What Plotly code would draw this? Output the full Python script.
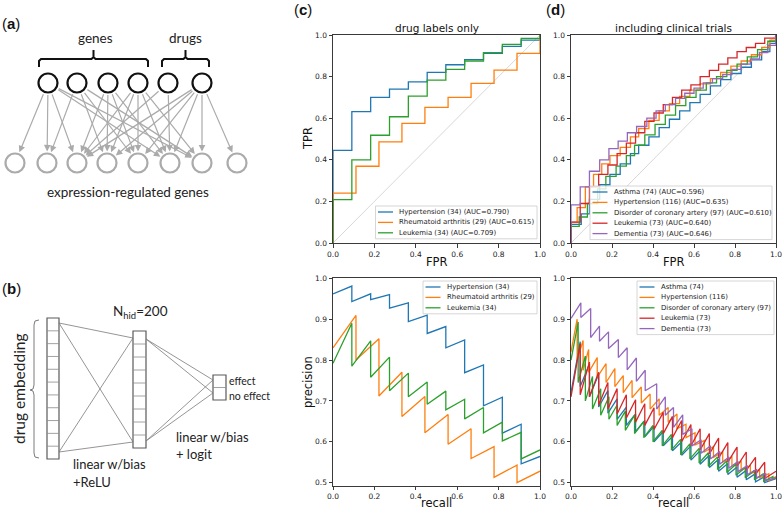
import plotly.graph_objects as go

W, H = 784, 509
TAB = ["#1f77b4", "#ff7f0e", "#2ca02c", "#d62728", "#9467bd"]

# ---- (c) drug labels only
c_labels = ["Hypertension (34)", "Rheumatoid arthritis (29)", "Leukemia (34)"]
c_auc = ["0.790", "0.615", "0.709"]
c_fpr = [
    [0, 0, 0.091, 0.182, 0.273, 0.364, 0.455, 0.545, 0.636, 0.727, 0.818, 0.909, 1.0],
    [0, 0, 0.111, 0.222, 0.333, 0.444, 0.556, 0.667, 0.778, 0.889, 1.0],
    [0, 0, 0.091, 0.182, 0.273, 0.364, 0.455, 0.545, 0.636, 0.727, 0.818, 0.909, 1.0],
]
c_tpr = [
    [0, 0.445, 0.632, 0.70, 0.74, 0.775, 0.82, 0.857, 0.882, 0.912, 0.945, 0.975, 1.0],
    [0, 0.24, 0.369, 0.486, 0.575, 0.652, 0.70, 0.767, 0.831, 0.912, 1.0],
    [0, 0.209, 0.40, 0.518, 0.607, 0.706, 0.783, 0.835, 0.875, 0.915, 0.955, 0.984, 1.0],
]
# precision-recall: recall of each tooth, precision before and after the drop
c_rec = [
    [0, 0.091, 0.182, 0.273, 0.364, 0.455, 0.545, 0.636, 0.727, 0.818, 0.909, 1.0],
    [0, 0.111, 0.222, 0.333, 0.444, 0.556, 0.667, 0.778, 0.889, 1.0],
    [0, 0.091, 0.182, 0.273, 0.364, 0.455, 0.545, 0.636, 0.727, 0.818, 0.909, 1.0],
]
c_prec_hi = [
    [0.962, 0.981, 0.962, 0.96, 0.94, 0.91, 0.882, 0.849, 0.788, 0.709, 0.643, 0.564],
    [0.83, 0.909, 0.852, 0.77, 0.711, 0.667, 0.632, 0.588, 0.543, 0.528],
    [0.792, 0.89, 0.847, 0.807, 0.768, 0.746, 0.724, 0.704, 0.684, 0.648, 0.623, 0.58],
]
c_prec_lo = [
    [0.962, 0.943, 0.948, 0.927, 0.894, 0.865, 0.83, 0.769, 0.688, 0.621, 0.546, 0.564],
    [0.83, 0.80, 0.712, 0.662, 0.622, 0.594, 0.559, 0.513, 0.50, 0.528],
    [0.792, 0.785, 0.758, 0.725, 0.71, 0.692, 0.678, 0.656, 0.622, 0.602, 0.558, 0.58],
]

# ---- (d) including clinical trials
d_labels = ["Asthma (74)", "Hypertension (116)", "Disorder of coronary artery (97)",
            "Leukemia (73)", "Dementia (73)"]
d_auc = ["0.596", "0.635", "0.610", "0.640", "0.646"]
d_fpr = [
    [0, 0, 0.05, 0.09, 0.14, 0.19, 0.24, 0.29, 0.33, 0.38, 0.43, 0.48, 0.53, 0.58, 0.63, 0.68, 0.73, 0.78, 0.83, 0.88, 0.93, 0.97, 1.0],
    [0, 0, 0.03, 0.07, 0.11, 0.15, 0.19, 0.24, 0.29, 0.33, 0.38, 0.43, 0.48, 0.53, 0.58, 0.63, 0.68, 0.73, 0.78, 0.83, 0.88, 0.93, 0.97, 1.0],
    [0, 0, 0.04, 0.08, 0.13, 0.17, 0.22, 0.27, 0.31, 0.36, 0.41, 0.46, 0.51, 0.56, 0.61, 0.66, 0.71, 0.76, 0.81, 0.86, 0.91, 0.96, 1.0],
    [0, 0, 0.045, 0.09, 0.135, 0.18, 0.225, 0.27, 0.315, 0.36, 0.405, 0.45, 0.495, 0.54, 0.585, 0.63, 0.675, 0.72, 0.765, 0.81, 0.855, 0.9, 0.945, 1.0],
    [0, 0, 0.045, 0.09, 0.14, 0.185, 0.23, 0.275, 0.32, 0.37, 0.415, 0.46, 0.51, 0.555, 0.60, 0.645, 0.69, 0.74, 0.785, 0.83, 0.875, 0.92, 0.96, 1.0],
]
d_tpr = [
    [0, 0.09, 0.14, 0.21, 0.28, 0.33, 0.38, 0.43, 0.47, 0.51, 0.555, 0.595, 0.635, 0.675, 0.715, 0.755, 0.785, 0.815, 0.845, 0.88, 0.92, 0.96, 1.0],
    [0, 0.10, 0.17, 0.27, 0.33, 0.38, 0.42, 0.46, 0.51, 0.55, 0.59, 0.635, 0.67, 0.705, 0.735, 0.765, 0.79, 0.82, 0.85, 0.875, 0.905, 0.94, 0.975, 1.0],
    [0, 0.08, 0.125, 0.19, 0.26, 0.32, 0.37, 0.42, 0.47, 0.52, 0.57, 0.615, 0.66, 0.70, 0.735, 0.77, 0.80, 0.83, 0.86, 0.895, 0.93, 0.97, 1.0],
    [0, 0.10, 0.19, 0.27, 0.33, 0.375, 0.43, 0.48, 0.53, 0.585, 0.625, 0.665, 0.70, 0.735, 0.76, 0.80, 0.83, 0.86, 0.89, 0.92, 0.94, 0.96, 0.985, 1.0],
    [0, 0.183, 0.27, 0.345, 0.40, 0.454, 0.49, 0.53, 0.56, 0.60, 0.635, 0.665, 0.695, 0.72, 0.745, 0.77, 0.79, 0.81, 0.835, 0.86, 0.885, 0.915, 0.95, 1.0],
]
d_rec = [
    [0, 0.045, 0.09, 0.135, 0.18, 0.225, 0.27, 0.315, 0.36, 0.405, 0.45, 0.495, 0.54, 0.585, 0.63, 0.675, 0.72, 0.765, 0.81, 0.855, 0.9, 0.945, 1.0],
    [0, 0.03, 0.059, 0.086, 0.128, 0.171, 0.214, 0.255, 0.298, 0.343, 0.386, 0.43, 0.474, 0.517, 0.561, 0.605, 0.65, 0.695, 0.74, 0.785, 0.83, 0.875, 0.92, 0.965, 1.0],
    [0, 0.035, 0.07, 0.105, 0.145, 0.185, 0.225, 0.265, 0.31, 0.355, 0.4, 0.445, 0.49, 0.535, 0.58, 0.625, 0.67, 0.715, 0.76, 0.805, 0.85, 0.895, 0.94, 0.985, 1.0],
    [0, 0.045, 0.09, 0.135, 0.18, 0.225, 0.27, 0.315, 0.36, 0.405, 0.45, 0.495, 0.54, 0.585, 0.63, 0.675, 0.72, 0.765, 0.81, 0.855, 0.9, 0.945, 1.0],
    [0, 0.048, 0.096, 0.139, 0.183, 0.231, 0.274, 0.319, 0.362, 0.418, 0.46, 0.50, 0.545, 0.59, 0.635, 0.68, 0.725, 0.77, 0.815, 0.86, 0.905, 0.95, 1.0],
]
d_prec_hi = [
    [0.72, 0.845, 0.79, 0.765, 0.725, 0.705, 0.685, 0.668, 0.652, 0.638, 0.625, 0.613, 0.6, 0.59, 0.578, 0.567, 0.557, 0.547, 0.538, 0.53, 0.522, 0.515, 0.51],
    [0.82, 0.90, 0.848, 0.826, 0.806, 0.791, 0.779, 0.762, 0.75, 0.734, 0.717, 0.705, 0.684, 0.668, 0.643, 0.622, 0.603, 0.588, 0.575, 0.563, 0.552, 0.542, 0.532, 0.522, 0.515],
    [0.80, 0.893, 0.81, 0.76, 0.73, 0.71, 0.69, 0.675, 0.665, 0.65, 0.64, 0.628, 0.618, 0.606, 0.595, 0.584, 0.573, 0.563, 0.553, 0.545, 0.537, 0.53, 0.522, 0.515, 0.512],
    [0.71, 0.84, 0.795, 0.77, 0.745, 0.73, 0.715, 0.703, 0.693, 0.683, 0.672, 0.662, 0.652, 0.642, 0.632, 0.62, 0.609, 0.598, 0.587, 0.575, 0.562, 0.55, 0.528],
    [0.902, 0.94, 0.926, 0.883, 0.869, 0.85, 0.83, 0.805, 0.775, 0.742, 0.71, 0.684, 0.666, 0.632, 0.605, 0.59, 0.576, 0.563, 0.552, 0.542, 0.532, 0.522, 0.512],
]
d_prec_lo = [
    [0.72, 0.735, 0.71, 0.685, 0.67, 0.655, 0.64, 0.625, 0.612, 0.6, 0.59, 0.578, 0.567, 0.555, 0.545, 0.537, 0.528, 0.52, 0.513, 0.507, 0.502, 0.5, 0.51],
    [0.82, 0.80, 0.775, 0.77, 0.758, 0.745, 0.735, 0.72, 0.708, 0.695, 0.68, 0.665, 0.648, 0.632, 0.61, 0.592, 0.575, 0.562, 0.55, 0.54, 0.53, 0.522, 0.512, 0.505, 0.515],
    [0.80, 0.745, 0.70, 0.68, 0.665, 0.655, 0.64, 0.628, 0.62, 0.61, 0.6, 0.59, 0.58, 0.568, 0.558, 0.548, 0.54, 0.532, 0.525, 0.518, 0.512, 0.507, 0.503, 0.507, 0.512],
    [0.71, 0.715, 0.71, 0.69, 0.68, 0.668, 0.658, 0.648, 0.64, 0.63, 0.62, 0.61, 0.6, 0.59, 0.58, 0.57, 0.56, 0.55, 0.54, 0.53, 0.52, 0.51, 0.528],
    [0.902, 0.904, 0.855, 0.846, 0.828, 0.806, 0.776, 0.748, 0.725, 0.68, 0.665, 0.635, 0.618, 0.59, 0.572, 0.558, 0.545, 0.535, 0.527, 0.52, 0.512, 0.505, 0.512],
]
chance = [0, 1]


# pixel -> paper helpers (margins are zero, so paper == page)
def X(p):
    return p / W


def Y(p):
    return 1 - p / H


def zigzag(rec, hi, lo):
    xs, ys = [], []
    for r, a, b in zip(rec, hi, lo):
        xs += [r, r]
        ys += [a, b]
    return xs, ys


fig = go.Figure()
LW = 1.3

# ROC (c) on x/y, ROC (d) on x2/y2, PR (c) on x3/y3, PR (d) on x4/y4
for xa, ya in [("x", "y"), ("x2", "y2")]:
    fig.add_trace(go.Scatter(x=chance, y=chance, mode="lines", xaxis=xa, yaxis=ya,
                             line=dict(color="#d3d3d3", width=0.9), showlegend=False))
for i, lab in enumerate(c_labels):
    fig.add_trace(go.Scatter(x=c_fpr[i], y=c_tpr[i], mode="lines", line_shape="hv",
                             name=f"{lab} (AUC={c_auc[i]})",
                             line=dict(color=TAB[i], width=LW), xaxis="x", yaxis="y"))
    px_, py_ = zigzag(c_rec[i], c_prec_hi[i], c_prec_lo[i])
    fig.add_trace(go.Scatter(x=px_, y=py_, mode="lines", name=lab,
                             line=dict(color=TAB[i], width=LW), xaxis="x3", yaxis="y3"))
for i, lab in enumerate(d_labels):
    fig.add_trace(go.Scatter(x=d_fpr[i], y=d_tpr[i], mode="lines", line_shape="hv",
                             name=f"{lab} (AUC={d_auc[i]})",
                             line=dict(color=TAB[i], width=LW), xaxis="x2", yaxis="y2"))
    px_, py_ = zigzag(d_rec[i], d_prec_hi[i], d_prec_lo[i])
    fig.add_trace(go.Scatter(x=px_, y=py_, mode="lines", name=lab,
                             line=dict(color=TAB[i], width=LW), xaxis="x4", yaxis="y4"))

tickfont = dict(family="DejaVu Sans", size=7.5, color="#222")
base = dict(showline=True, linecolor="#3a3a3a", linewidth=1, mirror=True, ticks="outside",
            ticklen=3.5, tickwidth=0.8, tickcolor="#3a3a3a", tickfont=tickfont,
            showgrid=False, zeroline=False, tickformat=".1f", fixedrange=True,
            automargin=False, ticklabeloverflow="allow")

cx = [X(333), X(540)]
dx = [X(571), X(776)]
roc_y = [Y(243), Y(35)]
pr_y = [Y(485.5), Y(278.3)]

fig.update_layout(
    xaxis=dict(base, domain=cx, range=[0, 1], dtick=0.2, anchor="y"),
    yaxis=dict(base, domain=roc_y, range=[0, 1], dtick=0.2, anchor="x"),
    xaxis2=dict(base, domain=dx, range=[0, 1], dtick=0.2, anchor="y2"),
    yaxis2=dict(base, domain=roc_y, range=[0, 1], dtick=0.2, anchor="x2"),
    xaxis3=dict(base, domain=cx, range=[0, 1], dtick=0.2, anchor="y3"),
    yaxis3=dict(base, domain=pr_y, range=[0.493, 1.0], dtick=0.1, tick0=0.5, anchor="x3"),
    xaxis4=dict(base, domain=dx, range=[0, 1], dtick=0.2, anchor="y4"),
    yaxis4=dict(base, domain=pr_y, range=[0.493, 1.0], dtick=0.1, tick0=0.5, anchor="x4"),
)

shapes, annots = [], []


def text(x, y, s, size=13.5, family="Lato", anchor="center", color="#222", angle=0):
    annots.append(dict(x=X(x), y=Y(y), xref="paper", yref="paper", text=s, showarrow=False,
                       xanchor=anchor, yanchor="middle", textangle=angle,
                       font=dict(family=family, size=size, color=color)))


def path(pts, color, width):
    d = f"M {X(pts[0][0]):.5f},{Y(pts[0][1]):.5f}"
    for a, b in pts[1:]:
        d += f" L {X(a):.5f},{Y(b):.5f}"
    shapes.append(dict(type="path", path=d, xref="paper", yref="paper",
                       line=dict(color=color, width=width)))


def line(x0, y0, x1, y1, color, width):
    shapes.append(dict(type="line", x0=X(x0), y0=Y(y0), x1=X(x1), y1=Y(y1), xref="paper",
                       yref="paper", line=dict(color=color, width=width)))


def rect(x0, y0, x1, y1, color, width, fill="rgba(0,0,0,0)"):
    shapes.append(dict(type="rect", x0=X(x0), y0=Y(y0), x1=X(x1), y1=Y(y1), xref="paper",
                       yref="paper", line=dict(color=color, width=width), fillcolor=fill))


# ---- matplotlib-like legends
def legend(left, top, right, labels):
    row = 10.4
    bottom = top + 12 + row * (len(labels) - 1)
    rect(left, top, right, bottom, "#cccccc", 0.8, "rgba(255,255,255,0.8)")
    for i, lab in enumerate(labels):
        yy = top + 6 + row * i
        line(left + 2.5, yy, left + 17.5, yy, TAB[i], 1.3)
        text(left + 21.5, yy, lab, size=6.9, family="DejaVu Sans", anchor="left", color="#222")


legend(375.5, 206, 537, [f"{l} (AUC={a})" for l, a in zip(c_labels, c_auc)])
legend(590, 186, 772, [f"{l} (AUC={a})" for l, a in zip(d_labels, d_auc)])
legend(423, 281, 537, c_labels)
legend(637, 281, 774, d_labels)

# titles and axis labels
labfont = 11.5
text(436.5, 28, "drug labels only", size=10.5, family="DejaVu Sans", color="#111")
text(673.5, 28, "including clinical trials", size=10.5, family="DejaVu Sans", color="#111")
text(436.5, 262, "FPR", size=labfont, family="DejaVu Sans", color="#111")
text(673.5, 262, "FPR", size=labfont, family="DejaVu Sans", color="#111")
text(436.5, 503, "recall", size=labfont, family="DejaVu Sans", color="#111")
text(673.5, 503, "recall", size=labfont, family="DejaVu Sans", color="#111")
text(308, 139, "TPR", size=labfont, family="DejaVu Sans", color="#111", angle=-90)
text(308, 382, "precision", size=labfont, family="DejaVu Sans", color="#111", angle=-90)
for lx, ly, s in [(0, 23, "a"), (0, 288, "b"), (292, 9, "c"), (544, 9, "d")]:
    text(lx, ly, f"(<b>{s}</b>)", size=15, family="Liberation Sans", anchor="left", color="#111")

# ---- (a) gene / drug network diagram
top_x = [48, 77, 108, 138, 168, 202]
bot_x = [15, 47, 77, 107, 138, 170, 202, 237]
TY, BY, R = 83, 163, 9.5
edges = [(0, 0), (0, 1), (0, 2), (0, 5), (0, 6),
         (1, 1), (1, 3), (1, 4), (1, 6),
         (2, 2), (2, 3), (2, 4), (2, 5),
         (3, 2), (3, 3), (3, 4), (3, 5), (3, 6),
         (4, 2), (4, 5),
         (5, 2), (5, 3), (5, 4), (5, 5), (5, 6), (5, 7)]
GRAY = "#ababab"
for t, b in edges:
    x0, x1 = top_x[t], bot_x[b]
    dxp, dyp = x1 - x0, BY - TY
    n = (dxp ** 2 + dyp ** 2) ** 0.5
    ux, uy = dxp / n, dyp / n
    sx, sy = x0 + ux * (R + 1), TY + uy * (R + 1)
    hx, hy = x1 - ux * (R + 2), BY - uy * (R + 2)
    annots.append(dict(x=X(hx), y=Y(hy), xref="paper", yref="paper", ax=sx - hx, ay=sy - hy,
                       axref="pixel", ayref="pixel", text="", showarrow=True, arrowhead=2,
                       arrowsize=1.1, arrowwidth=1.2, arrowcolor=GRAY, standoff=0))
for cxp in top_x:
    shapes.append(dict(type="circle", xref="paper", yref="paper", x0=X(cxp - R), x1=X(cxp + R),
                       y0=Y(TY + R), y1=Y(TY - R), line=dict(color="#111", width=2.2),
                       fillcolor="white"))
for cxp in bot_x:
    shapes.append(dict(type="circle", xref="paper", yref="paper", x0=X(cxp - R), x1=X(cxp + R),
                       y0=Y(BY + R), y1=Y(BY - R), line=dict(color=GRAY, width=2.2),
                       fillcolor="white"))
# braces over genes and drugs
for a, b in [(39, 148), (162, 209)]:
    m = (a + b) / 2
    path([(a, 67), (a, 61), (a + 2, 59), (m - 2, 59), (m, 57), (m, 50), (m, 57), (m + 2, 59),
          (b - 2, 59), (b, 61), (b, 67)], "#111", 2)
text(95, 38, "genes")
text(185, 38, "drugs")
text(128, 192, "expression-regulated genes")

# ---- (b) feed-forward network diagram
BOX = "#5a5a5a"
for x0, x1, y0, y1, n in [(47, 59, 318, 459, 11), (133, 146, 331, 448, 9), (213, 226, 375, 400, 2)]:
    rect(x0, y0, x1, y1, BOX, 1.2, "white")
    step = (y1 - y0) / n
    for k in range(1, n):
        line(x0, y0 + k * step, x1, y0 + k * step, "#8a8a8a", 0.8)
for (a, b), (c, d) in [((59, 323), (133, 338)), ((59, 323), (133, 442)),
                       ((59, 452), (133, 338)), ((59, 452), (133, 442)),
                       ((146, 339), (213, 380)), ((146, 339), (213, 393)),
                       ((146, 441), (213, 380)), ((146, 441), (213, 393))]:
    line(a, b, c, d, "#7a7a7a", 0.8)
path([(39, 320), (35, 321), (34, 325), (34, 385), (33, 389), (30, 390), (33, 391), (34, 395),
      (34, 453), (35, 457), (39, 458)], "#7a7a7a", 1)
text(19, 389, "drug embedding", size=15.5, angle=-90)
text(140, 312, "N<sub>hid</sub>=200", size=13.5)
text(227, 381, "effect", size=10.5, anchor="left")
text(227, 396, "no effect", size=10.5, anchor="left")
text(71, 464, "linear w/bias", size=13, anchor="left")
text(71, 482, "+ReLU", size=13, anchor="left")
text(174, 437, "linear w/bias", size=13, anchor="left")
text(174, 454, "+ logit", size=13, anchor="left")

fig.update_layout(
    width=W, height=H, margin=dict(l=0, r=0, t=0, b=0),
    paper_bgcolor="white", plot_bgcolor="white",
    showlegend=False, shapes=shapes, annotations=annots,
    font=dict(family="DejaVu Sans", color="#222"),
)

# the page body has a default 8px margin; drop it so the figure fills the window
fig.write_html("out.html", config={"displayModeBar": False},
               post_script="document.body.style.margin='0';document.body.style.overflow='hidden';")
